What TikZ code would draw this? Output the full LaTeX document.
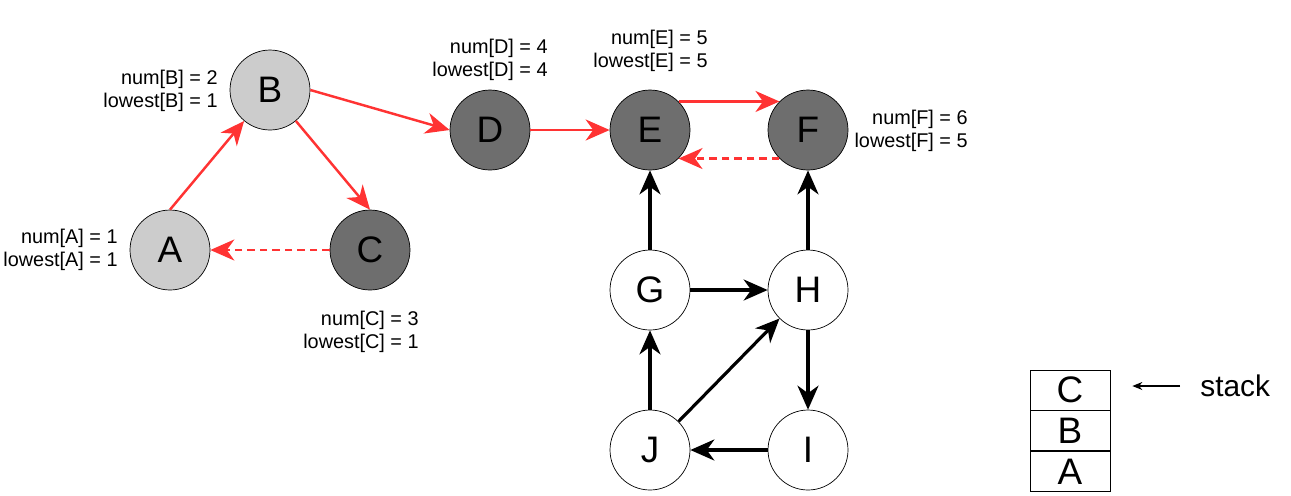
\documentclass[tikz,border=0pt]{standalone}
\usepackage{fontspec}
\setmainfont{Liberation Sans}
\usetikzlibrary{arrows.meta, positioning}
\definecolor{visited}{HTML}{CCCCCC}
\definecolor{onstack}{HTML}{6E6E6E}
\definecolor{tree}{HTML}{FF3333}

\begin{document}
\begin{tikzpicture}[
  x=0.02cm, y=-0.02cm,
  vertex/.style={circle, draw, fill=#1, minimum size=1.6cm, inner sep=0pt,
    font=\fontsize{21}{24}\selectfont},
  vertex/.default=white,
  info/.style={anchor=east, align=right, inner sep=0pt,
    font=\fontsize{11.3}{13.3}\selectfont},
  cell/.style={rectangle, draw, minimum width=1.6cm, minimum height=0.8cm,
    inner sep=0pt, font=\fontsize{21}{24}\selectfont},
  arrow/.style={-{Stealth[length=0.48cm, width=0.42cm, inset=0.15cm]}, line width=1.8pt, #1},
  arrow/.default=black,
  treearrow/.style={arrow=tree, line width=1.4pt},
  backarrow/.style={treearrow, dash pattern=on 0.15cm off 0.1cm}
]
\useasboundingbox (0,0) rectangle (1291,495);

% Vertices
\node[vertex=visited] (A) at (170,250) {A};
\node[vertex=visited] (B) at (270,90) {B};
\node[vertex=onstack] (C) at (370,250) {C};
\node[vertex=onstack] (D) at (490,130) {D};
\node[vertex=onstack] (E) at (650,130) {E};
\node[vertex=onstack] (F) at (808,130) {F};
\node[vertex] (G) at (650,290) {G};
\node[vertex] (H) at (808,290) {H};
\node[vertex] (I) at (808,450) {I};
\node[vertex] (J) at (650,450) {J};

% num / lowest
\node[info] (infoA) at (118,250) {num[A] = 1\\lowest[A] = 1};
\node[info] (infoB) at (218,91) {num[B] = 2\\lowest[B] = 1};
\node[info] (infoC) at (419,332) {num[C] = 3\\lowest[C] = 1};
\node[info] (infoD) at (548,60) {num[D] = 4\\lowest[D] = 4};
\node[info] (infoE) at (708,51) {num[E] = 5\\lowest[E] = 5};
\node[info] (infoF) at (968,131) {num[F] = 6\\lowest[F] = 5};

% Tree and back edges
\draw[treearrow] (A.north) -- (B);
\draw[treearrow] (B) -- (C.north);
\draw[treearrow] (B.east) -- (D.west);
\draw[backarrow] (C.west) -- (A.east);
\draw[treearrow] (D.east) -- (E.west);
\draw[treearrow] (E.north east) -- (F.north west);
\draw[backarrow] (F.south west) -- (E.south east);

% Unvisited edges
\draw[arrow] (G.north) -- (E.south);
\draw[arrow] (H.north) -- (F.south);
\draw[arrow] (G.east) -- (H.west);
\draw[arrow] (H.south) -- (I.north);
\draw[arrow] (I.west) -- (J.east);
\draw[arrow] (J.north) -- (G.south);
\draw[arrow] (J.north east) -- (H.south west);

% Stack
\node[cell] (cellC) at (1070,390) {C};
\node[cell, below=0pt of cellC] (cellB) {B};
\node[cell, below=0pt of cellB] (cellA) {A};
\node[anchor=west, inner xsep=0.4cm, font=\fontsize{17}{20}\selectfont] (stack) at (1180,386) {stack};
\draw[-{Stealth[length=0.2cm, width=0.16cm]}, thick, shorten >=0.44cm] (stack.west) -- (stack.west -| cellC.east);
\end{tikzpicture}
\end{document}
